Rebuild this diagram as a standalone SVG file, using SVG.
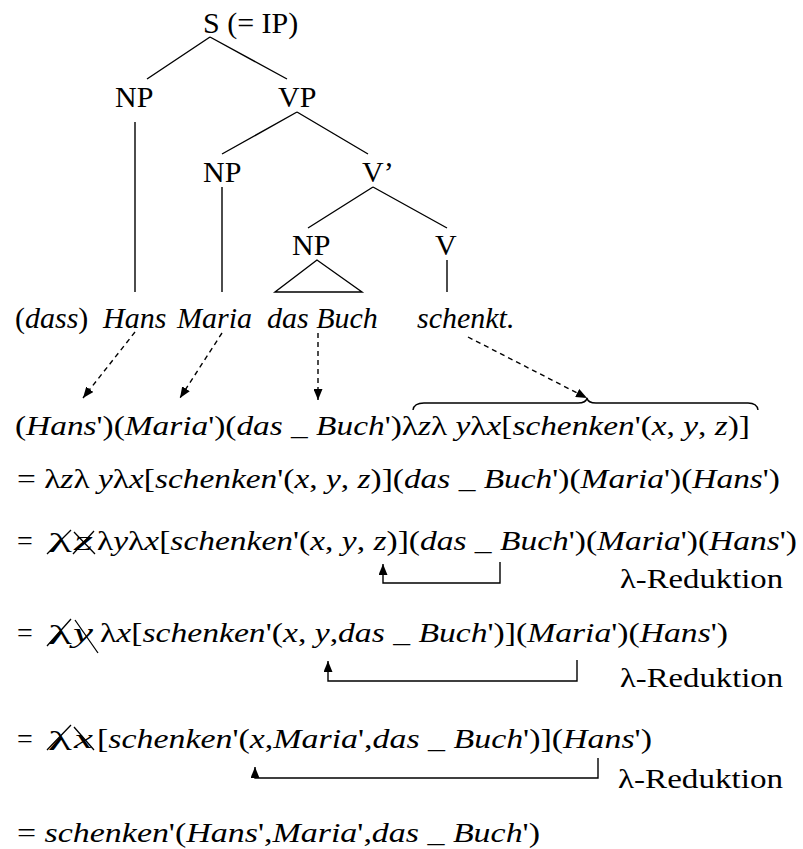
<svg xmlns="http://www.w3.org/2000/svg" width="803" height="849" viewBox="0 0 803 849">
  <style>
    text { font-family: "Liberation Serif", "Times New Roman", serif; fill: #000; }
    .lbl { font-size: 30px; }
    .f { font-size: 28px; }
    .it { font-style: italic; }
    .edge { stroke: #000; stroke-width: 1.4; fill: none; }
    .dash { stroke: #000; stroke-width: 1.4; fill: none; stroke-dasharray: 5 4; }
    .red { stroke: #000; stroke-width: 1.4; fill: none; }
    .x { stroke: #000; stroke-width: 1.3; fill: none; }
  </style>
  <defs>
    <marker id="head" viewBox="0 0 10 10" refX="10" refY="5" markerWidth="11" markerHeight="9" markerUnits="userSpaceOnUse" orient="auto" preserveAspectRatio="none">
      <path d="M0,0 L10,5 L0,10 Z" fill="#000"/>
    </marker>
  </defs>
  <rect width="803" height="849" fill="#fff"/>

  <!-- syntax tree labels -->
  <g id="node-S"><text class="lbl" x="203" y="33">S (= IP)</text></g>
  <g id="node-NP1"><text class="lbl" x="115" y="107">NP</text></g>
  <g id="node-VP"><text class="lbl" x="278" y="107">VP</text></g>
  <g id="node-NP2"><text class="lbl" x="203" y="182">NP</text></g>
  <g id="node-Vbar"><text class="lbl" x="362" y="182">V’</text></g>
  <g id="node-NP3"><text class="lbl" x="292" y="255">NP</text></g>
  <g id="node-V"><text class="lbl" x="435" y="255">V</text></g>

  <!-- terminal words -->
  <g id="word-dass"><text class="lbl" x="15" y="328">(<tspan class="it">dass</tspan>)</text></g>
  <g id="word-Hans"><text class="lbl it" x="103" y="328">Hans</text></g>
  <g id="word-Maria"><text class="lbl it" x="177" y="328">Maria</text></g>
  <g id="word-dasBuch"><text class="lbl it" x="267" y="328">das Buch</text></g>
  <g id="word-schenkt"><text class="lbl it" x="417" y="328">schenkt.</text></g>

  <!-- derivation lines -->
  <g id="step-1">
    <text class="f" x="15" y="435" textLength="735" lengthAdjust="spacingAndGlyphs">(<tspan class="it">Hans</tspan>')(<tspan class="it">Maria</tspan>')(<tspan class="it">das</tspan> _ <tspan class="it">Buch</tspan>')λ<tspan class="it">z</tspan>λ <tspan class="it">y</tspan>λ<tspan class="it">x</tspan>[<tspan class="it">schenken</tspan>'(<tspan class="it">x</tspan>, <tspan class="it">y</tspan>, <tspan class="it">z</tspan>)]</text>
  </g>
  <g id="step-2">
    <text class="f" x="17" y="488" textLength="763" lengthAdjust="spacingAndGlyphs">= λ<tspan class="it">z</tspan>λ <tspan class="it">y</tspan>λ<tspan class="it">x</tspan>[<tspan class="it">schenken</tspan>'(<tspan class="it">x</tspan>, <tspan class="it">y</tspan>, <tspan class="it">z</tspan>)](<tspan class="it">das</tspan> _ <tspan class="it">Buch</tspan>')(<tspan class="it">Maria</tspan>')(<tspan class="it">Hans</tspan>')</text>
  </g>
  <g id="step-3">
    <text class="f" x="17" y="550">=</text>
    <text class="f" x="48" y="552" font-size="31" textLength="24" lengthAdjust="spacingAndGlyphs">λ</text>
    <text class="f it" x="74" y="550" textLength="19" lengthAdjust="spacingAndGlyphs">z</text>
    <path class="x" d="M71,530 L47,554 M74,532 L95,554 M94,531 L73,554"/>
    <text class="f" x="97" y="550" textLength="700" lengthAdjust="spacingAndGlyphs">λ<tspan class="it">y</tspan>λ<tspan class="it">x</tspan>[<tspan class="it">schenken</tspan>'(<tspan class="it">x</tspan>, <tspan class="it">y</tspan>, <tspan class="it">z</tspan>)](<tspan class="it">das</tspan> _ <tspan class="it">Buch</tspan>')(<tspan class="it">Maria</tspan>')(<tspan class="it">Hans</tspan>')</text>
    <text class="f" x="620" y="588" textLength="163" lengthAdjust="spacingAndGlyphs">λ-Reduktion</text>
  </g>
  <g id="step-4">
    <text class="f" x="17" y="642">=</text>
    <text class="f" x="48" y="644" font-size="31" textLength="24" lengthAdjust="spacingAndGlyphs">λ</text>
    <text class="f it" x="73" y="642" textLength="20" lengthAdjust="spacingAndGlyphs">y</text>
    <path class="x" d="M71,619 L47,646 M75,620 L98,653"/>
    <text class="f" x="100" y="642" textLength="628" lengthAdjust="spacingAndGlyphs">λ<tspan class="it">x</tspan>[<tspan class="it">schenken</tspan>'(<tspan class="it">x</tspan>, <tspan class="it">y</tspan>,<tspan class="it">das</tspan> _ <tspan class="it">Buch</tspan>')](<tspan class="it">Maria</tspan>')(<tspan class="it">Hans</tspan>')</text>
    <text class="f" x="620" y="687" textLength="163" lengthAdjust="spacingAndGlyphs">λ-Reduktion</text>
  </g>
  <g id="step-5">
    <text class="f" x="17" y="748">=</text>
    <text class="f" x="48" y="750" font-size="31" textLength="24" lengthAdjust="spacingAndGlyphs">λ</text>
    <text class="f it" x="74" y="748" textLength="19" lengthAdjust="spacingAndGlyphs">x</text>
    <path class="x" d="M71,725 L47,750 M74,727 L94,750"/>
    <text class="f" x="97" y="748" textLength="555" lengthAdjust="spacingAndGlyphs">[<tspan class="it">schenken</tspan>'(<tspan class="it">x</tspan>,<tspan class="it">Maria</tspan>',<tspan class="it">das</tspan> _ <tspan class="it">Buch</tspan>')](<tspan class="it">Hans</tspan>')</text>
    <text class="f" x="618" y="788" textLength="165" lengthAdjust="spacingAndGlyphs">λ-Reduktion</text>
  </g>
  <g id="step-6">
    <text class="f" x="17" y="842" textLength="523" lengthAdjust="spacingAndGlyphs">= <tspan class="it">schenken</tspan>'(<tspan class="it">Hans</tspan>',<tspan class="it">Maria</tspan>',<tspan class="it">das</tspan> _ <tspan class="it">Buch</tspan>')</text>
  </g>

  <!-- connectors: tree edges, word-to-term arrows, brace, reduction arrows -->
  <g id="connectors">
    <path class="edge" d="M210,37 L147,79 M210,37 L287,79"/>
    <path class="edge" d="M135,122 L135,292"/>
    <path class="edge" d="M297,112 L222,154 M297,112 L368,154"/>
    <path class="edge" d="M222,187 L222,292"/>
    <path class="edge" d="M373,187 L308,228 M373,187 L447,228"/>
    <path class="edge" d="M317,260 L275,292 L362,292 Z"/>
    <path class="edge" d="M447,260 L447,292"/>

    <path class="dash" d="M135,332 L83,398" marker-end="url(#head)"/>
    <path class="dash" d="M222,333 L180,398" marker-end="url(#head)"/>
    <path class="dash" d="M318,333 L318,400" marker-end="url(#head)"/>
    <path class="dash" d="M468,337 L587,398" marker-end="url(#head)"/>

    <path class="edge" d="M413,410 Q414,403 424,403 L578,403 Q586,403 587,398 Q588,403 596,403 L748,403 Q757,403 758,410"/>

    <path class="red" d="M500,562 L500,583 L383,583 L383,564" marker-end="url(#head)"/>
    <path class="red" d="M577,660 L577,681 L328,681 L328,661" marker-end="url(#head)"/>
    <path class="red" d="M598,758 L598,778 L255,778 L255,767" marker-end="url(#head)"/>
  </g>
</svg>
